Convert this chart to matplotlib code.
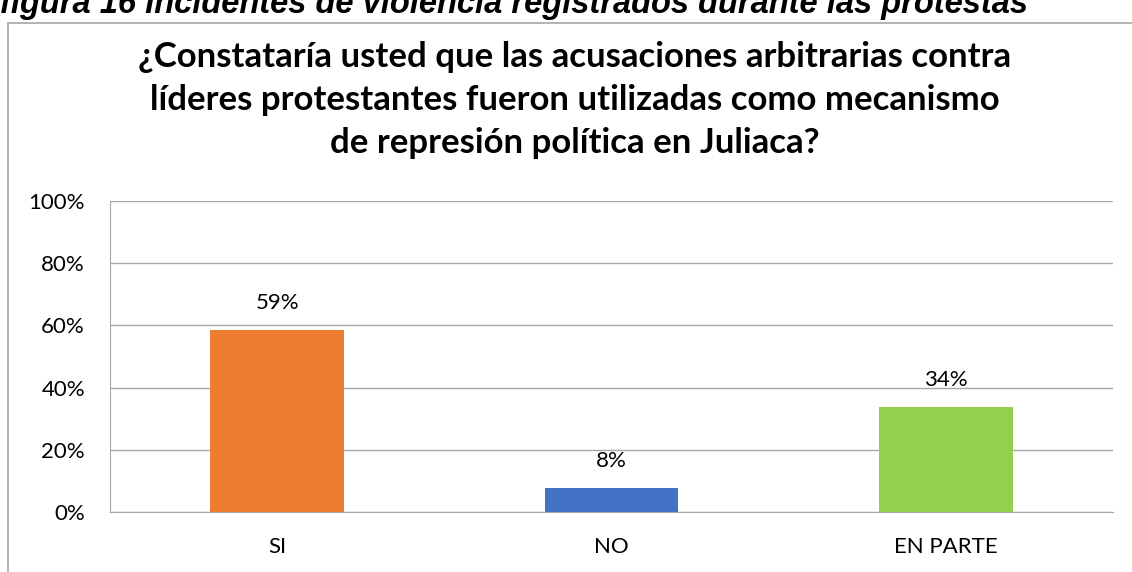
import matplotlib.pyplot as plt
from matplotlib.patches import Rectangle

categories = ["SI", "NO", "EN PARTE"]
values = [0.585, 0.077, 0.338]
labels = ["59%", "8%", "34%"]
colors = ["#ED7D31", "#4472C4", "#92D050"]
yticks = [0, 0.2, 0.4, 0.6, 0.8, 1.0]
ytick_labels = ["0%", "20%", "40%", "60%", "80%", "100%"]

title = ("¿Constataría usted que las acusaciones arbitrarias contra\n"
         "líderes protestantes fueron utilizadas como mecanismo\n"
         "de represión política en Juliaca?")
caption = "figura 16 Incidentes de violencia registrados durante las protestas"

W, H = 1132, 572
fig = plt.figure(figsize=(W / 100, H / 100), dpi=100)
plt.rcParams['font.family'] = ['Lato', 'DejaVu Sans']

# chart frame (cut off at right and bottom)
fig.patches.append(Rectangle((8 / W, -0.1), 1.2, 1 - 23 / H + 0.1,
                             transform=fig.transFigure, fill=False,
                             edgecolor="#A6A6A6", linewidth=1.2))

# caption above the frame, partially cut as in the source
fig.text(0, 1 - 13 / H, caption, family="Liberation Sans",
         weight="bold", style="italic", fontsize=23.5, va="baseline", ha="left")

fig.text(575 / W, 1 - 100 / H, title, ha="center", va="center",
         fontsize=25, weight="bold", linespacing=1.42)

ax = fig.add_axes([110 / W, (H - 512) / H, (1113 - 110) / W, 311 / H])
x = range(len(categories))
bars = ax.bar(x, values, width=0.4, color=colors, zorder=3)
for b, lab in zip(bars, labels):
    ax.annotate(lab, (b.get_x() + b.get_width() / 2, b.get_height()),
                xytext=(0, 12), textcoords="offset points",
                ha="center", va="bottom", fontsize=16)

ax.set_xlim(-0.5, 2.5)
ax.set_ylim(0, 1)
ax.set_yticks(yticks)
ax.set_yticklabels(ytick_labels, fontsize=16)
ax.set_xticks(list(x))
ax.set_xticklabels(categories, fontsize=16)
ax.tick_params(axis="y", length=0, pad=18)
ax.tick_params(axis="x", length=0, pad=18)
ax.grid(axis="y", color="#A6A6A6", linewidth=1, zorder=0)
for s in ["top", "right"]:
    ax.spines[s].set_visible(False)
for s in ["left", "bottom"]:
    ax.spines[s].set_color("#A6A6A6")

fig.savefig("out.png", dpi=100)
